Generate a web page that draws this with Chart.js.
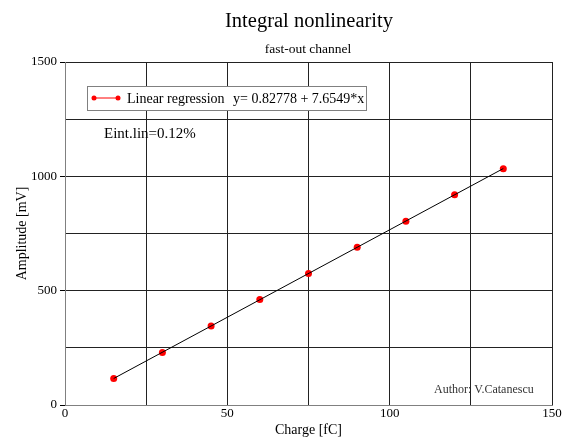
<!DOCTYPE html>
<html>
<head>
<meta charset="utf-8">
<script src="https://cdn.jsdelivr.net/npm/chart.js@4/dist/chart.umd.min.js"></script>
<style>
  html, body { margin: 0; padding: 0; background: #fff; }
  #wrap { width: 571px; height: 439px; }
</style>
</head>
<body>
<div id="wrap"><canvas id="c" width="571" height="439"></canvas></div>
<script>
// 測定点 (Charge [fC], Amplitude [mV])
var charge = [15, 30, 45, 60, 75, 90, 105, 120, 135];
var amplitude = [116, 230, 345, 461, 575, 690, 804, 919, 1033];

// 回帰直線の両端
var fitX = [15, 135];
var fitY = [116, 1034];

var xTicks = [0, 50, 100, 150];
var yTicks = [0, 500, 1000, 1500];

var titleText = 'Integral nonlinearity';
var subtitleText = 'fast-out channel';
var legendLabel = 'Linear regression';
var legendFormula = 'y= 0.82778 + 7.6549*x';
var noteText = 'Eint.lin=0.12%';
var authorText = 'Author: V.Catanescu';

var serif = '"Liberation Serif", "DejaVu Serif", serif';

// タイトル・凡例・注記を描くプラグイン
var textPlugin = {
    id: 'texts',
    afterDraw: function (chart) {
        var ctx = chart.ctx;
        ctx.save();
        ctx.fillStyle = '#000';
        ctx.textAlign = 'center';
        ctx.textBaseline = 'alphabetic';
        ctx.font = '20.5px ' + serif;
        ctx.fillText(titleText, 309, 27);
        ctx.font = '13.5px ' + serif;
        ctx.fillText(subtitleText, 308, 53);

        // 凡例ボックス
        ctx.fillStyle = '#fff';
        ctx.fillRect(87, 86, 279, 24);
        ctx.strokeStyle = '#808080';
        ctx.lineWidth = 1;
        ctx.strokeRect(87.5, 86.5, 279, 24);
        ctx.strokeStyle = '#ff0000';
        ctx.beginPath();
        ctx.moveTo(94, 98);
        ctx.lineTo(118, 98);
        ctx.stroke();
        ctx.fillStyle = '#ff0000';
        [94, 118].forEach(function (px) {
            ctx.beginPath();
            ctx.arc(px, 98, 2.5, 0, Math.PI * 2);
            ctx.fill();
        });
        ctx.fillStyle = '#000';
        ctx.textAlign = 'left';
        ctx.font = '14px ' + serif;
        ctx.fillText(legendLabel, 127, 103);
        ctx.fillText(legendFormula, 233, 103);

        ctx.font = '15px ' + serif;
        ctx.fillText(noteText, 104, 138);

        ctx.font = '12px ' + serif;
        ctx.fillStyle = '#333';
        ctx.fillText(authorText, 434, 393);
        ctx.restore();
    }
};

var ctx = document.getElementById('c').getContext('2d');
var points = charge.map(function (v, i) { return { x: v, y: amplitude[i] }; });
var fitLine = fitX.map(function (v, i) { return { x: v, y: fitY[i] }; });

var myChart = new Chart(ctx, {
    type: 'scatter',
    data: {
        datasets: [
            {
                label: 'fit',
                data: fitLine,
                showLine: true,
                borderColor: '#000',
                borderWidth: 1,
                pointRadius: 0,
                fill: false
            },
            {
                label: legendLabel,
                data: points,
                showLine: false,
                backgroundColor: '#ff0000',
                borderColor: '#ff0000',
                pointRadius: 3.5,
                pointBorderWidth: 0
            }
        ]
    },
    options: {
        responsive: false,
        animation: false,
        layout: { padding: { top: 62, right: 19, left: 0, bottom: 0 } },
        plugins: {
            legend: { display: false },
            tooltip: { enabled: false }
        },
        scales: {
            x: {
                type: 'linear',
                min: 0,
                max: 150,
                afterBuildTicks: function (scale) {
                    scale.ticks = [0, 25, 50, 75, 100, 125, 150].map(function (v) { return { value: v }; });
                },
                afterFit: function (scale) { scale.height = 34; },
                ticks: {
                    color: '#000',
                    font: { family: serif, size: 13 },
                    padding: 1,
                    maxRotation: 0,
                    callback: function (v) { return xTicks.indexOf(v) >= 0 ? String(v) : ''; }
                },
                grid: { color: '#222', drawTicks: false },
                border: { color: '#808080' },
                title: {
                    display: true,
                    text: 'Charge [fC]',
                    color: '#000',
                    font: { family: serif, size: 14 },
                    padding: { top: 0, bottom: 0 }
                }
            },
            y: {
                type: 'linear',
                min: 0,
                max: 1500,
                afterBuildTicks: function (scale) {
                    scale.ticks = [0, 250, 500, 750, 1000, 1250, 1500].map(function (v) { return { value: v }; });
                },
                afterFit: function (scale) { scale.width = 65; },
                ticks: {
                    color: '#000',
                    font: { family: serif, size: 13 },
                    padding: 3,
                    callback: function (v) { return yTicks.indexOf(v) >= 0 ? String(v) : ''; }
                },
                grid: {
                    color: '#222',
                    tickLength: 5,
                    tickColor: function (c) {
                        return (c.tick && yTicks.indexOf(c.tick.value) >= 0) ? '#000' : 'rgba(0,0,0,0)';
                    }
                },
                border: { color: '#808080' },
                title: {
                    display: true,
                    text: 'Amplitude [mV]',
                    color: '#000',
                    font: { family: serif, size: 14 },
                    padding: { top: 14, bottom: 0 }
                }
            }
        }
    },
    plugins: [textPlugin]
});
</script>
</body>
</html>
